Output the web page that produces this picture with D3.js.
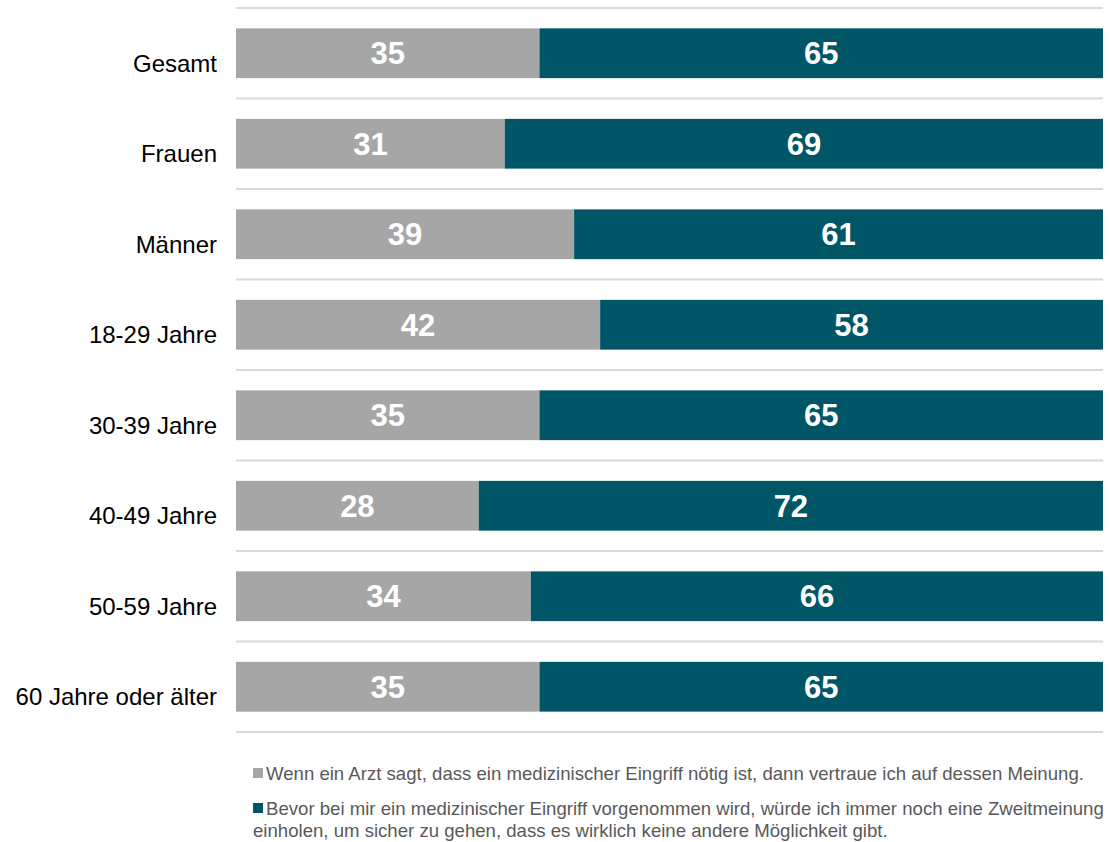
<!DOCTYPE html>
<html>
<head>
<meta charset="utf-8">
<script src="https://cdn.jsdelivr.net/npm/d3@7"></script>
<style>
  body { margin: 0; background: #fff; }
  svg text { font-family: "Liberation Sans", Arial, sans-serif; }
</style>
</head>
<body>
<div id="chart"></div>
<script>
const categories = ['Gesamt', 'Frauen', 'Männer', '18-29 Jahre', '30-39 Jahre', '40-49 Jahre', '50-59 Jahre', '60 Jahre oder älter'];
const vertrauen = [35, 31, 39, 42, 35, 28, 34, 35];
const zweitmeinung = [65, 69, 61, 58, 65, 72, 66, 65];
const seriesNames = [
    'Wenn ein Arzt sagt, dass ein medizinischer Eingriff nötig ist, dann vertraue ich auf dessen Meinung.',
    'Bevor bei mir ein medizinischer Eingriff vorgenommen wird, würde ich immer noch eine Zweitmeinung|einholen, um sicher zu gehen, dass es wirklich keine andere Möglichkeit gibt.'
];
const colors = ['#a6a6a6', '#005666'];

const width = 1110;
const height = 842;

const svg = d3.select('#chart').append('svg')
    .attr('width', width)
    .attr('height', height);

const x = d3.scaleLinear().domain([0, 100]).range([236, 1103]);
const y = d3.scaleBand().domain(categories).range([8, 732]).paddingInner(0.45).paddingOuter(0.225);

// gridlines between categories
const step = y.step();
const gridYs = d3.range(categories.length + 1).map(i => 8 + i * step);
svg.selectAll('.grid').data(gridYs).enter().append('line')
    .attr('x1', x(0)).attr('x2', x(100))
    .attr('y1', d => d).attr('y2', d => d)
    .attr('stroke', '#d9d9d9')
    .attr('stroke-width', 2);

const rows = categories.map((c, i) => ({ cat: c, values: [vertrauen[i], zweitmeinung[i]] }));

rows.forEach(row => {
    let start = 0;
    row.values.forEach((v, k) => {
        svg.append('rect')
            .attr('x', x(start))
            .attr('y', y(row.cat))
            .attr('width', x(start + v) - x(start))
            .attr('height', y.bandwidth())
            .attr('fill', colors[k]);
        svg.append('text')
            .attr('x', (x(start) + x(start + v)) / 2)
            .attr('y', y(row.cat) + y.bandwidth() / 2)
            .attr('dy', '0.36em')
            .attr('text-anchor', 'middle')
            .attr('fill', '#fff')
            .attr('font-weight', 'bold')
            .attr('font-size', 31)
            .text(v);
        start += v;
    });
});

// category labels
svg.selectAll('.cat').data(categories).enter().append('text')
    .attr('x', 217)
    .attr('y', d => y(d) + y.bandwidth() / 2 + 10)
    .attr('dy', '0.36em')
    .attr('text-anchor', 'end')
    .attr('font-size', 24)
    .attr('fill', '#000')
    .text(d => d);

// legend
const legendY = [773, 808];
seriesNames.forEach((name, i) => {
    svg.append('rect')
        .attr('x', 253).attr('y', legendY[i] - 5)
        .attr('width', 10).attr('height', 10)
        .attr('fill', colors[i]);
    const t = svg.append('text')
        .attr('x', 266).attr('y', legendY[i])
        .attr('dy', '0.36em')
        .attr('font-size', 18.6)
        .attr('fill', '#595959');
    name.split('|').forEach((line, j) => {
        t.append('tspan')
            .attr('x', j === 0 ? 266 : 253)
            .attr('dy', j === 0 ? '0.36em' : 22)
            .text(line);
    });
});
</script>
</body>
</html>
